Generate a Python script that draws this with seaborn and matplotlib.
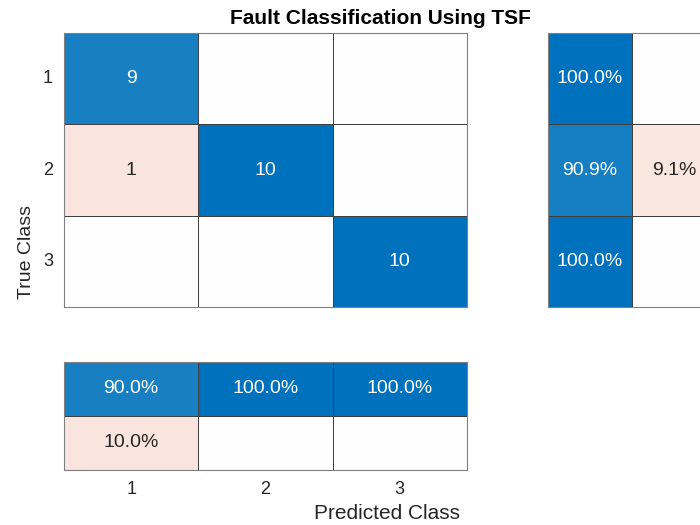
import numpy as np
import matplotlib
import matplotlib.pyplot as plt
import seaborn as sns
from matplotlib.colors import LinearSegmentedColormap

matplotlib.use('Agg')

# --- data ---
classes = ['1', '2', '3']
counts = [[9, 0, 0],
          [1, 10, 0],
          [0, 0, 10]]
# row summary (per true class): correct / incorrect
row_correct = [100.0, 90.9, 100.0]
row_wrong = [0.0, 9.1, 0.0]
# column summary (per predicted class): correct / incorrect
col_correct = [90.0, 100.0, 100.0]
col_wrong = [10.0, 0.0, 0.0]

title = 'Fault Classification Using TSF'

sns.set_theme(style='white')
plt.rcParams['font.family'] = ['Liberation Sans', 'DejaVu Sans']

# orange for errors, white for zero, matlab blue for correct
cmap = LinearSegmentedColormap.from_list(
    'cc', [(0.0, '#D95319'), (0.45, '#F9E4DC'), (0.5, '#FFFFFF'), (1.0, '#0072BD')])
line_col = '#404040'
border_col = '#808080'
txt_col = '#262626'


def pct_labels(arr):
    return np.array([[f'{v:.1f}%' if v > 0 else '' for v in row] for row in arr])


def draw(ax, shade, labels):
    sns.heatmap(shade, ax=ax, cmap=cmap, vmin=-1, vmax=1, cbar=False,
                annot=labels, fmt='', annot_kws={'fontsize': 14},
                linewidths=0.6, linecolor=line_col, square=False)
    for s in ax.spines.values():
        s.set_visible(True)
        s.set_color(border_col)
        s.set_linewidth(0.8)
    ax.tick_params(length=0, labelsize=13, colors=txt_col)


fig = plt.figure(figsize=(7, 5.25), dpi=100)

# main matrix
cm = np.array(counts, dtype=float)
sign = np.where(np.eye(3, dtype=bool), 1.0, -1.0)
ax_main = fig.add_axes([0.0914, 0.415, 0.5757, 0.522])
cm_labels = np.array([[str(v) if v > 0 else '' for v in row] for row in counts])
draw(ax_main, sign * cm / cm.max(), cm_labels)
ax_main.set_xticks([])
ax_main.set_yticks(np.arange(3) + 0.5)
ax_main.set_yticklabels(classes, rotation=0)
ax_main.tick_params(axis='y', pad=8)

# row summary (right, clipped by the figure edge)
rs = np.array([row_correct, row_wrong]).T
ax_row = fig.add_axes([0.783, 0.415, 0.24, 0.522])
draw(ax_row, rs / 100 * np.array([1, -1]), pct_labels(rs))
ax_row.set_xticks([])
ax_row.set_yticks([])

# column summary (bottom)
cs = np.array([col_correct, col_wrong])
ax_col = fig.add_axes([0.0914, 0.1048, 0.5757, 0.2057])
draw(ax_col, cs / 100 * np.array([[1], [-1]]), pct_labels(cs))
ax_col.set_yticks([])
ax_col.set_xticks(np.arange(3) + 0.5)
ax_col.set_xticklabels(classes)
ax_col.tick_params(axis='x', pad=8)

fig.text(0.543, 0.965, title, ha='center', va='center',
         fontsize=15, fontweight='bold', color='black')
fig.text(0.038, 0.52, 'True Class', rotation=90, ha='center', va='center',
         fontsize=14, color=txt_col)
fig.text(0.553, 0.021, 'Predicted Class', ha='center', va='center',
         fontsize=15, color=txt_col)

fig.savefig('out.png', dpi=100)
